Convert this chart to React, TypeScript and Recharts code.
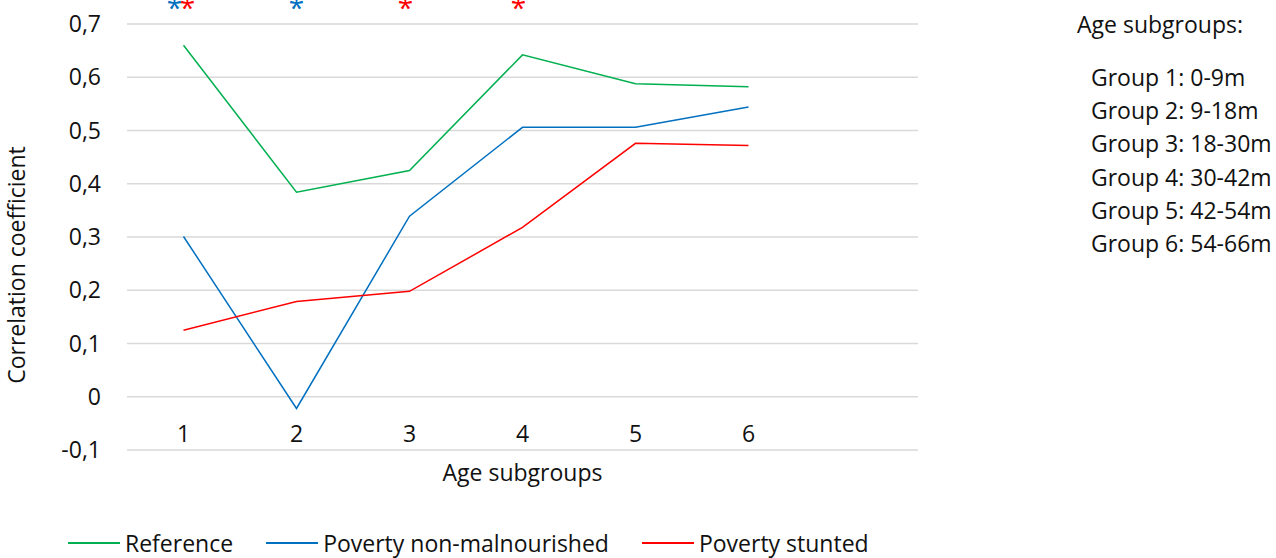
import React from 'react';
import { LineChart, Line, XAxis, YAxis, CartesianGrid, ReferenceDot } from 'recharts';

const GROUPS = [1, 2, 3, 4, 5, 6];
const REFERENCE = [0.66, 0.384, 0.425, 0.642, 0.588, 0.582];
const POVERTY_NON_MALNOURISHED = [0.301, -0.022, 0.339, 0.506, 0.506, 0.544];
const POVERTY_STUNTED = [0.125, 0.179, 0.198, 0.318, 0.476, 0.472];
const Y_TICKS = [-0.1, 0, 0.1, 0.2, 0.3, 0.4, 0.5, 0.6, 0.7];
// groups marked with a significance star, per series colour
const BLUE_STARS = [1, 2];
const RED_STARS = [1, 3, 4];
const AGE_RANGES = ['0-9m', '9-18m', '18-30m', '30-42m', '42-54m', '54-66m'];

const GREEN = '#00b050';
const BLUE = '#0070c0';
const RED = '#ff0000';
const FONT = '"Open Sans", sans-serif';
const TEXT = '#111';
const FS = 23;

const data = GROUPS.map((g, i) => ({
    group: g,
    reference: REFERENCE[i],
    nonMal: POVERTY_NON_MALNOURISHED[i],
    stunted: POVERTY_STUNTED[i],
}));

const fmt = (v: number) => (v === 0 ? '0' : v.toFixed(1).replace('.', ','));

const BottomTick = ({ x, y, payload }: any) => (
    <text x={x} y={y} dy={-8} textAnchor="middle" fontSize={FS} fill={TEXT} fontFamily={FONT}>
        {payload.value}
    </text>
);

const star = (color: string, dx: number) => (props: any) => (
    <text x={props.cx + dx} y={props.cy + 13} textAnchor="middle" fontSize={28} fill={color} fontFamily={FONT}>*</text>
);

const legendItems = [
    { label: 'Reference', color: GREEN },
    { label: 'Poverty non-malnourished', color: BLUE },
    { label: 'Poverty stunted', color: RED },
];

export default function App() {
    return (
        <div style={{ position: 'absolute', left: 0, top: 0, width: 1276, height: 558, fontFamily: FONT, color: TEXT }}>
            <LineChart width={1276} height={558} data={data} margin={{ top: 24, right: 358, bottom: 68, left: 27 }}>
                <CartesianGrid vertical={false} stroke="#d9d9d9" strokeWidth={1.5} />
                <XAxis
                    dataKey="group"
                    type="number"
                    domain={[0.5, 7.5]}
                    ticks={GROUPS}
                    height={40}
                    axisLine={false}
                    tickLine={false}
                    tickSize={0}
                    tickMargin={0}
                    tick={<BottomTick />}
                />
                <YAxis
                    domain={[-0.1, 0.7]}
                    ticks={Y_TICKS}
                    width={100}
                    axisLine={false}
                    tickLine={false}
                    tickSize={0}
                    tickMargin={26}
                    tickFormatter={fmt}
                    tick={{ fontSize: FS, fill: TEXT, fontFamily: FONT }}
                    interval={0}
                />
                <Line dataKey="reference" stroke={GREEN} strokeWidth={1.5} dot={false} isAnimationActive={false} />
                <Line dataKey="nonMal" stroke={BLUE} strokeWidth={1.5} dot={false} isAnimationActive={false} />
                <Line dataKey="stunted" stroke={RED} strokeWidth={1.5} dot={false} isAnimationActive={false} />
                {BLUE_STARS.map((g) => (
                    <ReferenceDot key={'b' + g} x={g} y={0.736} ifOverflow="visible"
                        shape={star(BLUE, RED_STARS.includes(g) ? -9 : 0)} />
                ))}
                {RED_STARS.map((g) => (
                    <ReferenceDot key={'r' + g} x={g} y={0.736} ifOverflow="visible"
                        shape={star(RED, BLUE_STARS.includes(g) ? 4 : -4)} />
                ))}
            </LineChart>

            <svg width={1276} height={558} style={{ position: 'absolute', left: 0, top: 0, pointerEvents: 'none' }}>
                <text x={25} y={265} transform="rotate(-90 25 265)" textAnchor="middle" fontSize={FS} fill={TEXT} fontFamily={FONT}>
                    Correlation coefficient
                </text>
                <text x={522.5} y={481} textAnchor="middle" fontSize={FS} fill={TEXT} fontFamily={FONT}>
                    Age subgroups
                </text>
                <text x={1077} y={33} fontSize={FS} fill={TEXT} fontFamily={FONT}>Age subgroups:</text>
                {AGE_RANGES.map((r, i) => (
                    <text key={r} x={1091} y={86 + i * 33.2} fontSize={FS} fill={TEXT} fontFamily={FONT}>
                        {`Group ${i + 1}: ${r}`}
                    </text>
                ))}
            </svg>

            <div style={{ position: 'absolute', left: 68, top: 527, display: 'flex', alignItems: 'center', fontSize: FS, whiteSpace: 'nowrap' }}>
                {legendItems.map((it, i) => (
                    <div key={it.label} style={{ display: 'flex', alignItems: 'center', marginRight: i < 2 ? 33 : 0 }}>
                        <div style={{ width: 52, height: 2, background: it.color, marginRight: 5 }} />
                        <span>{it.label}</span>
                    </div>
                ))}
            </div>
        </div>
    );
}
